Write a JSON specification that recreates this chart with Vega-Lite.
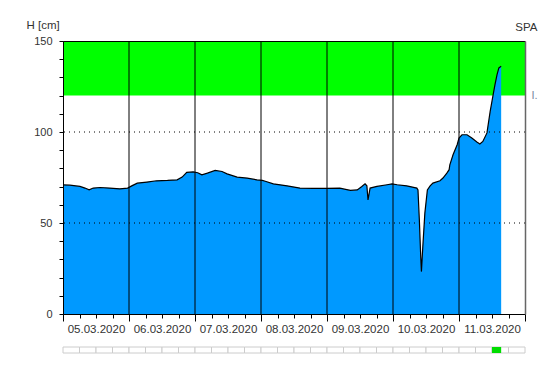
{
  "$schema": "https://vega.github.io/schema/vega-lite/v6.json",
  "autosize": {"type": "pad"},
  "padding": {"left": 26, "top": 19, "right": 5, "bottom": 10},
  "background": "#ffffff",
  "config": {
    "view": {"stroke": null},
    "font": "Liberation Sans",
    "axis": {"labelFont": "Liberation Sans", "titleFont": "Liberation Sans"}
  },
  "spacing": 33,
  "bounds": "flush",
  "vconcat": [
    {
      "width": 462,
      "height": 273,
      "layer": [
        {
          "data": {"values": [{"start": "2020-03-05T00:00:00Z", "end": "2020-03-12T00:00:00Z", "low": 120, "high": 150}]},
          "mark": {"type": "rect", "color": "#00ff00", "opacity": 1},
          "encoding": {
            "x": {
              "field": "start", "type": "temporal",
              "scale": {"type": "utc", "domain": [{"year": 2020, "month": 3, "date": 5, "utc": true}, {"year": 2020, "month": 3, "date": 12, "utc": true}]},
              "axis": {"orient": "top", "domain": true, "domainColor": "#000000", "ticks": false, "labels": false, "grid": false, "title": null, "zindex": 1}
            },
            "x2": {"field": "end"},
            "y": {
              "field": "low", "type": "quantitative",
              "scale": {"domain": [0, 150], "nice": false},
              "axis": {
                "orient": "right", "values": [120], "labelExpr": "'I.'", "ticks": false, "labelPadding": 6,
                "labelColor": "#7788a0", "labelFontSize": 11, "domainColor": "#666666", "domainWidth": 1.5, "grid": false,
                "title": "SPA", "titleAngle": 0, "titleX": 12, "titleY": -11, "titleAlign": "right", "titleBaseline": "alphabetic",
                "titleFontSize": 11.5, "titleFontWeight": "normal", "titleColor": "#333333", "zindex": 1
              }
            },
            "y2": {"field": "high"}
          }
        },
        {
          "data": {"values": [
            {"t": "2020-03-05T00:00:00Z", "h": 71.0},
            {"t": "2020-03-05T02:30:00Z", "h": 70.8},
            {"t": "2020-03-05T06:10:00Z", "h": 70.1},
            {"t": "2020-03-05T08:00:00Z", "h": 69.2},
            {"t": "2020-03-05T09:30:00Z", "h": 68.2},
            {"t": "2020-03-05T11:00:00Z", "h": 69.2},
            {"t": "2020-03-05T13:30:00Z", "h": 69.5},
            {"t": "2020-03-05T17:00:00Z", "h": 69.2},
            {"t": "2020-03-05T20:40:00Z", "h": 68.8},
            {"t": "2020-03-05T23:30:00Z", "h": 69.2},
            {"t": "2020-03-06T01:00:00Z", "h": 70.4},
            {"t": "2020-03-06T03:00:00Z", "h": 71.9},
            {"t": "2020-03-06T06:30:00Z", "h": 72.5},
            {"t": "2020-03-06T10:00:00Z", "h": 73.2},
            {"t": "2020-03-06T14:00:00Z", "h": 73.4},
            {"t": "2020-03-06T17:30:00Z", "h": 73.7},
            {"t": "2020-03-06T19:20:00Z", "h": 75.2},
            {"t": "2020-03-06T21:00:00Z", "h": 77.8},
            {"t": "2020-03-06T23:20:00Z", "h": 78.1},
            {"t": "2020-03-07T01:00:00Z", "h": 77.6},
            {"t": "2020-03-07T02:30:00Z", "h": 76.5},
            {"t": "2020-03-07T04:30:00Z", "h": 77.4},
            {"t": "2020-03-07T07:20:00Z", "h": 78.9},
            {"t": "2020-03-07T09:50:00Z", "h": 78.3},
            {"t": "2020-03-07T11:40:00Z", "h": 77.0},
            {"t": "2020-03-07T15:20:00Z", "h": 75.2},
            {"t": "2020-03-07T19:00:00Z", "h": 74.7},
            {"t": "2020-03-07T22:30:00Z", "h": 73.7},
            {"t": "2020-03-08T00:30:00Z", "h": 73.4},
            {"t": "2020-03-08T01:50:00Z", "h": 72.8},
            {"t": "2020-03-08T04:30:00Z", "h": 71.5},
            {"t": "2020-03-08T09:30:00Z", "h": 70.4},
            {"t": "2020-03-08T14:10:00Z", "h": 69.2},
            {"t": "2020-03-08T19:00:00Z", "h": 69.0},
            {"t": "2020-03-09T00:00:00Z", "h": 69.0},
            {"t": "2020-03-09T04:40:00Z", "h": 69.2},
            {"t": "2020-03-09T08:30:00Z", "h": 67.9},
            {"t": "2020-03-09T11:00:00Z", "h": 68.2},
            {"t": "2020-03-09T12:40:00Z", "h": 70.1},
            {"t": "2020-03-09T13:50:00Z", "h": 71.5},
            {"t": "2020-03-09T14:30:00Z", "h": 70.4},
            {"t": "2020-03-09T14:55:00Z", "h": 62.7},
            {"t": "2020-03-09T15:40:00Z", "h": 69.2},
            {"t": "2020-03-09T18:10:00Z", "h": 70.1},
            {"t": "2020-03-09T21:50:00Z", "h": 71.0},
            {"t": "2020-03-09T23:40:00Z", "h": 71.5},
            {"t": "2020-03-10T01:30:00Z", "h": 71.0},
            {"t": "2020-03-10T05:00:00Z", "h": 70.4},
            {"t": "2020-03-10T08:40:00Z", "h": 69.2},
            {"t": "2020-03-10T09:05:00Z", "h": 68.2},
            {"t": "2020-03-10T09:35:00Z", "h": 51.7},
            {"t": "2020-03-10T10:05:00Z", "h": 31.5},
            {"t": "2020-03-10T10:20:00Z", "h": 23.3},
            {"t": "2020-03-10T10:50:00Z", "h": 37.0},
            {"t": "2020-03-10T11:35:00Z", "h": 55.4},
            {"t": "2020-03-10T12:30:00Z", "h": 68.2},
            {"t": "2020-03-10T13:30:00Z", "h": 70.4},
            {"t": "2020-03-10T14:30:00Z", "h": 71.9},
            {"t": "2020-03-10T17:05:00Z", "h": 73.2},
            {"t": "2020-03-10T18:10:00Z", "h": 74.7},
            {"t": "2020-03-10T19:35:00Z", "h": 77.4},
            {"t": "2020-03-10T20:25:00Z", "h": 79.3},
            {"t": "2020-03-10T20:40:00Z", "h": 82.0},
            {"t": "2020-03-10T21:50:00Z", "h": 87.5},
            {"t": "2020-03-10T23:20:00Z", "h": 93.0},
            {"t": "2020-03-11T00:00:00Z", "h": 96.7},
            {"t": "2020-03-11T01:05:00Z", "h": 98.5},
            {"t": "2020-03-11T02:55:00Z", "h": 98.5},
            {"t": "2020-03-11T04:40:00Z", "h": 96.7},
            {"t": "2020-03-11T06:30:00Z", "h": 94.5},
            {"t": "2020-03-11T07:35:00Z", "h": 93.4},
            {"t": "2020-03-11T08:40:00Z", "h": 94.8},
            {"t": "2020-03-11T10:10:00Z", "h": 99.5},
            {"t": "2020-03-11T11:20:00Z", "h": 111.3},
            {"t": "2020-03-11T12:25:00Z", "h": 120.5},
            {"t": "2020-03-11T13:05:00Z", "h": 126.0},
            {"t": "2020-03-11T13:50:00Z", "h": 131.5},
            {"t": "2020-03-11T14:30:00Z", "h": 135.2},
            {"t": "2020-03-11T15:20:00Z", "h": 136.1}
          ]},
          "mark": {"type": "area", "color": "#0099ff", "opacity": 1, "fillOpacity": 1, "line": {"color": "#000000", "strokeWidth": 1.2, "opacity": 1}},
          "encoding": {
            "x": {
              "field": "t", "type": "temporal",
              "axis": {
                "orient": "bottom",
                "values": [1583366400000, 1583388000000, 1583409600000, 1583431200000, 1583452800000, 1583474400000, 1583496000000, 1583517600000, 1583539200000, 1583560800000, 1583582400000, 1583604000000, 1583625600000, 1583647200000, 1583668800000, 1583690400000, 1583712000000, 1583733600000, 1583755200000, 1583776800000, 1583798400000, 1583820000000, 1583841600000, 1583863200000, 1583884800000, 1583906400000, 1583928000000, 1583949600000, 1583971200000],
                "tickSize": 4, "tickColor": "#000000",
                "domainColor": "#000000",
                "labelExpr": "utchours(datum.value) == 12 ? utcFormat(datum.value, '%d.%m.%Y') : ''",
                "labelOverlap": false, "labelFlush": false, "labelBound": false, "labelPadding": 5,
                "labelFontSize": 11.5, "labelColor": "#333333", "grid": false, "title": null, "zindex": 1
              }
            },
            "y": {
              "field": "h", "type": "quantitative",
              "axis": {
                "orient": "left", "values": [0, 10, 20, 30, 40, 50, 60, 70, 80, 90, 100, 110, 120, 130, 140, 150],
                "labelExpr": "datum.value % 50 == 0 ? datum.label : ''",
                "tickSize": 4, "tickColor": "#000000", "domainColor": "#000000", "labelPadding": 7,
                "labelFontSize": 11, "labelColor": "#333333", "grid": false,
                "title": "H [cm]", "titleAngle": 0, "titleX": -37, "titleY": -13, "titleAlign": "left", "titleBaseline": "alphabetic",
                "titleFontSize": 11.5, "titleFontWeight": "normal", "titleColor": "#333333", "zindex": 1
              }
            }
          }
        },
        {
          "data": {"values": [{"g": 50}, {"g": 100}]},
          "mark": {"type": "rule", "color": "#000000", "strokeDash": [1, 4], "strokeWidth": 1},
          "encoding": {"y": {"field": "g", "type": "quantitative", "axis": null}}
        },
        {
          "data": {"values": [
            {"d": "2020-03-06T00:00:00Z"},
            {"d": "2020-03-07T00:00:00Z"},
            {"d": "2020-03-08T00:00:00Z"},
            {"d": "2020-03-09T00:00:00Z"},
            {"d": "2020-03-10T00:00:00Z"},
            {"d": "2020-03-11T00:00:00Z"}
          ]},
          "mark": {"type": "rule", "color": "#000000", "strokeWidth": 1},
          "encoding": {
            "x": {
              "field": "d", "type": "temporal",
              "axis": {"orient": "bottom", "values": [1583366400000, 1583452800000, 1583539200000, 1583625600000, 1583712000000, 1583798400000, 1583884800000, 1583971200000], "tickSize": 7, "tickColor": "#000000", "domain": false, "labels": false, "grid": false, "title": null, "zindex": 1}
            }
          }
        }
      ],
      "resolve": {"axis": {"x": "independent", "y": "independent"}}
    },
    {
      "width": 462,
      "height": 6,
      "layer": [
        {
          "data": {"values": [
            {"s": "2020-03-05T00:00:00Z", "e": "2020-03-05T06:00:00Z"},
            {"s": "2020-03-05T06:00:00Z", "e": "2020-03-05T12:00:00Z"},
            {"s": "2020-03-05T12:00:00Z", "e": "2020-03-05T18:00:00Z"},
            {"s": "2020-03-05T18:00:00Z", "e": "2020-03-06T00:00:00Z"},
            {"s": "2020-03-06T00:00:00Z", "e": "2020-03-06T06:00:00Z"},
            {"s": "2020-03-06T06:00:00Z", "e": "2020-03-06T12:00:00Z"},
            {"s": "2020-03-06T12:00:00Z", "e": "2020-03-06T18:00:00Z"},
            {"s": "2020-03-06T18:00:00Z", "e": "2020-03-07T00:00:00Z"},
            {"s": "2020-03-07T00:00:00Z", "e": "2020-03-07T06:00:00Z"},
            {"s": "2020-03-07T06:00:00Z", "e": "2020-03-07T12:00:00Z"},
            {"s": "2020-03-07T12:00:00Z", "e": "2020-03-07T18:00:00Z"},
            {"s": "2020-03-07T18:00:00Z", "e": "2020-03-08T00:00:00Z"},
            {"s": "2020-03-08T00:00:00Z", "e": "2020-03-08T06:00:00Z"},
            {"s": "2020-03-08T06:00:00Z", "e": "2020-03-08T12:00:00Z"},
            {"s": "2020-03-08T12:00:00Z", "e": "2020-03-08T18:00:00Z"},
            {"s": "2020-03-08T18:00:00Z", "e": "2020-03-09T00:00:00Z"},
            {"s": "2020-03-09T00:00:00Z", "e": "2020-03-09T06:00:00Z"},
            {"s": "2020-03-09T06:00:00Z", "e": "2020-03-09T12:00:00Z"},
            {"s": "2020-03-09T12:00:00Z", "e": "2020-03-09T18:00:00Z"},
            {"s": "2020-03-09T18:00:00Z", "e": "2020-03-10T00:00:00Z"},
            {"s": "2020-03-10T00:00:00Z", "e": "2020-03-10T06:00:00Z"},
            {"s": "2020-03-10T06:00:00Z", "e": "2020-03-10T12:00:00Z"},
            {"s": "2020-03-10T12:00:00Z", "e": "2020-03-10T18:00:00Z"},
            {"s": "2020-03-10T18:00:00Z", "e": "2020-03-11T00:00:00Z"},
            {"s": "2020-03-11T00:00:00Z", "e": "2020-03-11T06:00:00Z"},
            {"s": "2020-03-11T06:00:00Z", "e": "2020-03-11T12:00:00Z"},
            {"s": "2020-03-11T12:00:00Z", "e": "2020-03-11T18:00:00Z"},
            {"s": "2020-03-11T18:00:00Z", "e": "2020-03-12T00:00:00Z"}
          ]},
          "mark": {"type": "rect", "fill": "#ffffff", "stroke": "#cccccc", "strokeWidth": 1},
          "encoding": {
            "x": {
              "field": "s", "type": "temporal",
              "scale": {"type": "utc", "domain": [{"year": 2020, "month": 3, "date": 5, "utc": true}, {"year": 2020, "month": 3, "date": 12, "utc": true}]},
              "axis": null
            },
            "x2": {"field": "e"}
          }
        },
        {
          "data": {"values": [{"s": "2020-03-11T12:00:00Z", "e": "2020-03-11T15:20:00Z"}]},
          "mark": {"type": "rect", "color": "#00dd00", "opacity": 1},
          "encoding": {
            "x": {"field": "s", "type": "temporal", "axis": null},
            "x2": {"field": "e"}
          }
        }
      ]
    }
  ]
}
